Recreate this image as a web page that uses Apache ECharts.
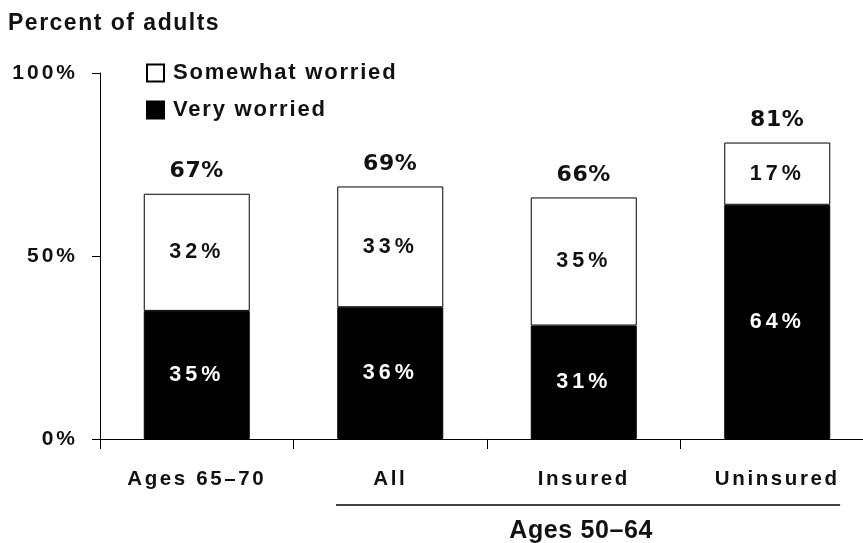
<!DOCTYPE html>
<html>
<head>
<meta charset="utf-8">
<script src="https://cdn.jsdelivr.net/npm/echarts@6/dist/echarts.min.js"></script>
<style>
  html, body { margin: 0; padding: 0; background: #fff; }
  #chart { width: 863px; height: 543px; }
</style>
</head>
<body>
<div id="chart"></div>
<script>
// Worry about affording health care, by group
const categories = ['Ages 65\u201370', 'All', 'Insured', 'Uninsured'];
const veryWorried = [35, 36, 31, 64];
const somewhatWorried = [32, 33, 35, 17];
const totals = [67, 69, 66, 81];
const yTicks = [0, 50, 100];
const groupLabel = 'Ages 50\u201364';

// Tracked (letter-spaced) text: extra spacing in px, keyed by font size,
// applied to Liberation Sans text drawn on the canvas.
const TRACKING = { '23': 1.5, '25': 0.6, '22': 1.8, '21': 3, '21.5': 4, '20.5': 2.6 };
(function () {
  const proto = CanvasRenderingContext2D.prototype;
  if (!('letterSpacing' in proto)) return;
  const wrap = name => {
    const orig = proto[name];
    proto[name] = function (text, x, y, maxWidth) {
      const m = /(\d+(?:\.\d+)?)px/.exec(this.font);
      const sp = (m && this.font.indexOf('Liberation') >= 0) ? (TRACKING[m[1]] || 0) : 0;
      const prev = this.letterSpacing;
      if (sp) this.letterSpacing = sp + 'px';
      const r = maxWidth === undefined ? orig.call(this, text, x, y) : orig.call(this, text, x, y, maxWidth);
      if (sp) this.letterSpacing = prev;
      return r;
    };
  };
  wrap('fillText');
  wrap('strokeText');
})();

const FONT = 'Liberation Sans';
const chart = echarts.init(document.getElementById('chart'), null, { renderer: 'canvas' });

const option = {
  animation: false,
  backgroundColor: '#ffffff',
  title: {
    text: 'Percent of adults',
    left: 8, top: 12, padding: 0,
    textStyle: { fontFamily: FONT, fontWeight: 'bold', fontSize: 23, color: '#111' }
  },
  legend: {
    orient: 'vertical',
    left: 146, top: 62, padding: 0,
    itemWidth: 17, itemHeight: 17, itemGap: 15,
    icon: 'rect',
    data: ['Somewhat worried', 'Very worried'],
    textStyle: { fontFamily: FONT, fontWeight: 'bold', fontSize: 22, color: '#111', padding: [0, 0, 0, 4] }
  },
  grid: { left: 100, width: 774, top: 73, height: 366, containLabel: false, outerBoundsMode: 'none' },
  xAxis: {
    type: 'category',
    data: categories,
    axisLine: { lineStyle: { color: '#000', width: 1 } },
    axisTick: { show: true, length: 10, lineStyle: { color: '#000' } },
    axisLabel: { fontFamily: FONT, fontWeight: 'bold', fontSize: 20.5, color: '#111', margin: 30, interval: 0 }
  },
  yAxis: {
    type: 'value',
    min: 0, max: 100, interval: 50,
    splitLine: { show: false },
    axisLine: { show: true, lineStyle: { color: '#000', width: 1 } },
    axisTick: { show: true, length: 8, lineStyle: { color: '#000' } },
    axisLabel: {
      fontFamily: FONT, fontWeight: 'bold', fontSize: 21, color: '#111', margin: 22,
      formatter: v => (yTicks.includes(v) ? v + '%' : '')
    }
  },
  series: [
    {
      name: 'Very worried',
      type: 'bar',
      stack: 'worry',
      barWidth: 106,
      data: veryWorried,
      itemStyle: { color: '#000', borderColor: '#000', borderWidth: 1 },
      label: {
        show: true, position: 'inside', formatter: '{c}%',
        fontFamily: FONT, fontWeight: 'bold', fontSize: 21.5, color: '#fff', textBorderWidth: 0
      }
    },
    {
      name: 'Somewhat worried',
      type: 'bar',
      stack: 'worry',
      barWidth: 106,
      data: somewhatWorried,
      itemStyle: { color: '#fff', borderColor: '#000', borderWidth: 1 },
      label: {
        show: true, position: 'inside', formatter: '{c}%',
        fontFamily: FONT, fontWeight: 'bold', fontSize: 21.5, color: '#111', textBorderWidth: 0
      }
    },
    {
      name: 'Total',
      type: 'line',
      data: totals,
      symbol: 'circle',
      symbolSize: 1,
      showSymbol: true,
      itemStyle: { color: 'rgba(0,0,0,0)' },
      lineStyle: { opacity: 0 },
      silent: true,
      label: {
        show: true, position: 'top', distance: 11, formatter: '{c}%',
        fontFamily: 'DejaVu Sans', fontWeight: 'bold', fontSize: 22, color: '#111', textBorderWidth: 0
      }
    }
  ]
};

chart.setOption(option);

// Bracket under the Ages 50–64 categories, placed from the axis scale
const firstIdx = 1, lastIdx = categories.length - 1;
const band = chart.convertToPixel({ xAxisIndex: 0 }, categories[1]) - chart.convertToPixel({ xAxisIndex: 0 }, categories[0]);
const x0 = chart.convertToPixel({ xAxisIndex: 0 }, categories[firstIdx]) - band * 0.28;
const x1 = chart.convertToPixel({ xAxisIndex: 0 }, categories[lastIdx]) + band * 0.325;
const yZero = chart.convertToPixel({ yAxisIndex: 0 }, 0);

chart.setOption({
  graphic: [
    {
      type: 'line',
      shape: { x1: x0, y1: yZero + 66, x2: x1, y2: yZero + 66 },
      style: { stroke: '#000', lineWidth: 1.5 }
    },
    {
      type: 'text',
      x: (x0 + x1) / 2 - 7, y: yZero + 92,
      style: {
        text: groupLabel, fontFamily: FONT, fontWeight: 'bold', fontSize: 25,
        fill: '#111', align: 'center', verticalAlign: 'middle'
      }
    }
  ]
});
</script>
</body>
</html>
